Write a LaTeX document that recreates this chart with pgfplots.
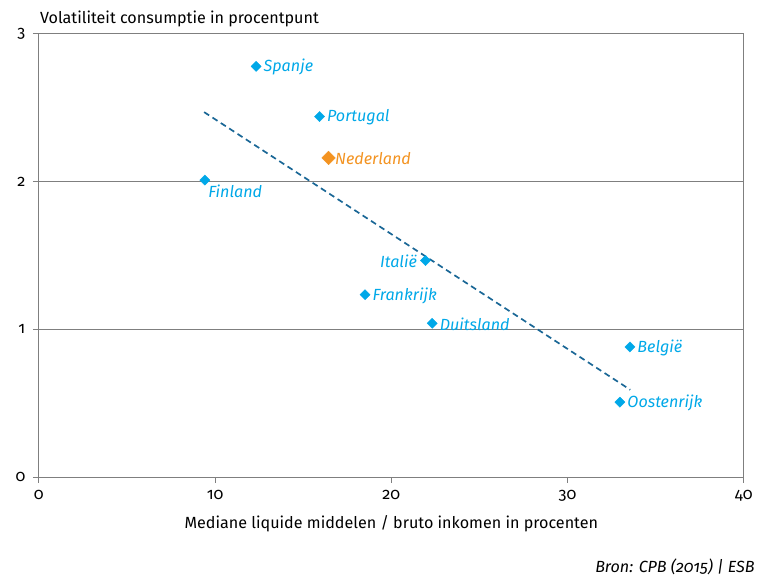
\documentclass[border=0pt]{standalone}
\usepackage{pgfplots}
\pgfplotsset{compat=1.18}
\usepackage{fontspec}
\setmainfont{Fira Sans}[Numbers=OldStyle]
\definecolor{cblue}{HTML}{00A8E8}
\definecolor{corange}{HTML}{F39321}
\definecolor{trend}{HTML}{1A6796}
\definecolor{axgray}{HTML}{7F7F7F}
\newcommand{\fs}{\fontsize{16.2bp}{19bp}\selectfont}
\begin{document}
\fs
\begin{tikzpicture}
\begin{axis}[
  at={(0,0)}, anchor=origin,
  scale only axis, width=708bp, height=445bp,
  xmin=0, xmax=40, ymin=0, ymax=3,
  xtick={0,10,20,30,40}, ytick={0,1,2,3},
  axis line style={axgray, line width=0.8bp},
  tick style={axgray, line width=0.8bp},
  tick align=outside, major tick length=6bp,
  xtick pos=bottom, ytick pos=left,
  ymajorgrids, grid style={axgray, line width=0.8bp},
  /pgf/number format/assume math mode=true,
  ticklabel style={font=\fs},
  xticklabel style={yshift=-2bp},
  yticklabel style={xshift=-2bp},
  xlabel={Mediane liquide middelen / bruto inkomen in procenten},
  xlabel style={yshift=-3bp},
  clip=false,
  nodes near coords={\pgfplotspointmeta},
  point meta=explicit symbolic,
]
% trend line
\addplot[trend, dashed, dash pattern=on 6bp off 4bp, line width=1.7bp, no marks, nodes near coords={}] coordinates {(9.38,2.47) (33.56,0.59)};
% labels to the right
\addplot[only marks, mark=square*, mark size=3.6bp, cblue, mark options={draw=cblue, fill=cblue, rotate=45},
  every node near coord/.append style={anchor=west, xshift=2bp, yshift=-1bp, font=\itshape\fs, text=cblue}]
  table[meta=label] {
x y label
12.33 2.78 Spanje
15.93 2.44 Portugal
18.51 1.234 Frankrijk
22.32 1.04 Duitsland
33.54 0.88 België
32.97 0.506 Oostenrijk
};
% Italie label left
\addplot[only marks, mark=square*, mark size=3.6bp, cblue, mark options={draw=cblue, fill=cblue, rotate=45},
  every node near coord/.append style={anchor=east, xshift=-3bp, yshift=-1bp, font=\itshape\fs, text=cblue}]
  table[meta=label] {
x y label
21.94 1.465 Italië
};
% Finland label below right
\addplot[only marks, mark=square*, mark size=3.6bp, cblue, mark options={draw=cblue, fill=cblue, rotate=45},
  every node near coord/.append style={anchor=north west, xshift=-2bp, yshift=1bp, font=\itshape\fs, text=cblue}]
  table[meta=label] {
x y label
9.42 2.01 Finland
};
% Nederland
\addplot[only marks, mark=square*, mark size=4.8bp, corange, mark options={draw=corange, fill=corange, rotate=45},
  every node near coord/.append style={anchor=west, xshift=1bp, yshift=-1bp, font=\itshape\fs, text=corange}]
  table[meta=label] {
x y label
16.44 2.16 Nederland
};
\end{axis}
\node[anchor=base west, inner sep=0pt] at (1bp,455bp) {Volatiliteit consumptie in procentpunt};
\node[anchor=base east, inner sep=0pt, font=\itshape\fs] at (719bp,-96bp) {Bron: CPB (2015) | ESB};
\useasboundingbox (-39bp,-100bp) rectangle (719bp,479bp);
\end{tikzpicture}
\end{document}
